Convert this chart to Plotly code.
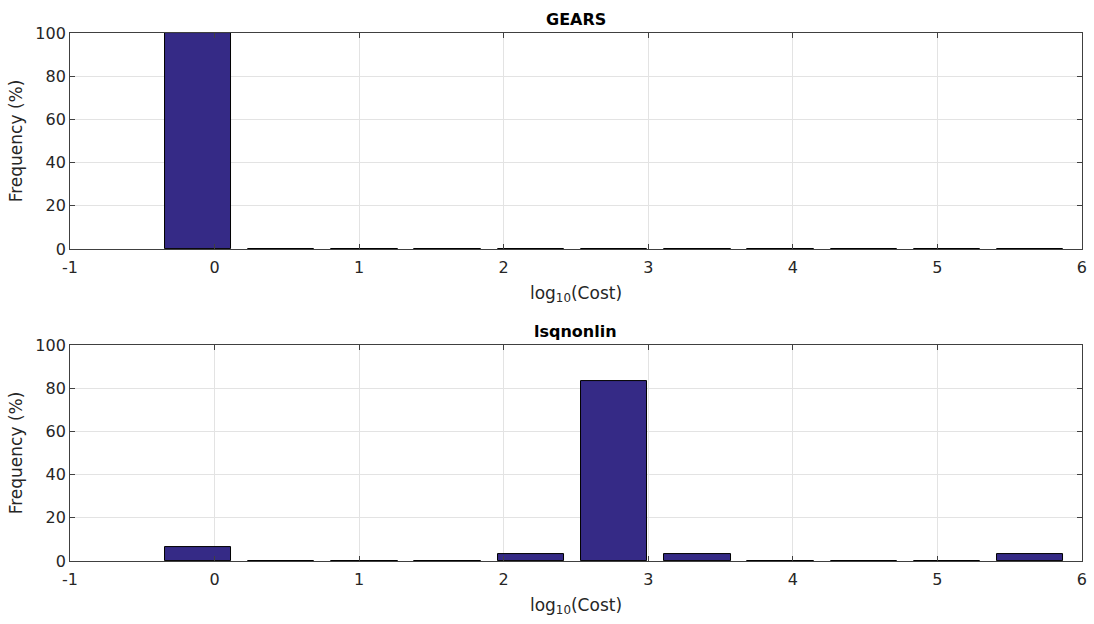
import plotly.graph_objects as go

bin_centers = [-0.115, 0.461, 1.037, 1.612, 2.188, 2.764, 3.339, 3.915, 4.491, 5.066, 5.642]
gears_freq = [100, 0, 0, 0, 0, 0, 0, 0, 0, 0, 0]
lsq_freq = [6.67, 0, 0, 0, 3.33, 83.33, 3.33, 0, 0, 0, 3.33]
titles = ["GEARS", "lsqnonlin"]
x_ticks = [-1, 0, 1, 2, 3, 4, 5, 6]
x_tick_text = ["-1", "0", "1", "2", "3", "4", "5", "6"]
y_ticks = [0, 20, 40, 60, 80, 100]

BAR = "#352a86"
FONT = "DejaVu Sans, Verdana, sans-serif"

fig = go.Figure()
domains_y = [[0.601, 0.947], [0.101, 0.447]]
for i, freq in enumerate([gears_freq, lsq_freq]):
    xa = "x" if i == 0 else "x2"
    ya = "y" if i == 0 else "y2"
    fig.add_trace(go.Bar(x=bin_centers, y=freq, width=0.46, xaxis=xa, yaxis=ya,
                         marker=dict(color=BAR, line=dict(color="black", width=1)),
                         showlegend=False))

axis_common = dict(showline=True, mirror="ticks", linecolor="#404040", linewidth=1,
                   ticks="inside", ticklen=5, tickcolor="#404040", automargin=False,
                   showgrid=True, gridcolor="#e3e3e3", gridwidth=1, zeroline=False,
                   tickfont=dict(family=FONT, size=16, color="#262626"))
layout = dict(
    width=1094, height=624, paper_bgcolor="white", plot_bgcolor="white",
    margin=dict(l=0, r=0, t=0, b=0), bargap=0,
    font=dict(family=FONT, color="#262626"),
)
for i in range(2):
    sx = "" if i == 0 else "2"
    layout["xaxis" + sx] = dict(axis_common, domain=[0.064, 0.989], range=[-1, 6],
                                tickvals=x_ticks, ticktext=x_tick_text, anchor="y" + sx,
                                ticklabelstandoff=4,
                                title=dict(text="log<sub>10</sub>(Cost)", standoff=10,
                                           font=dict(family=FONT, size=17, color="#262626")))
    layout["yaxis" + sx] = dict(axis_common, domain=domains_y[i], range=[0, 100],
                                tickvals=y_ticks, anchor="x" + sx,
                                title=dict(text="Frequency (%)", standoff=8,
                                           font=dict(family=FONT, size=17, color="#262626")))
fig.update_layout(**layout)
for i, t in enumerate(titles):
    fig.add_annotation(text="<b>" + t + "</b>", xref="paper", yref="paper",
                       x=0.5265, y=domains_y[i][1], yanchor="bottom", yshift=2,
                       showarrow=False, font=dict(family=FONT, size=16, color="black"))

fig.write_html("out.html")
